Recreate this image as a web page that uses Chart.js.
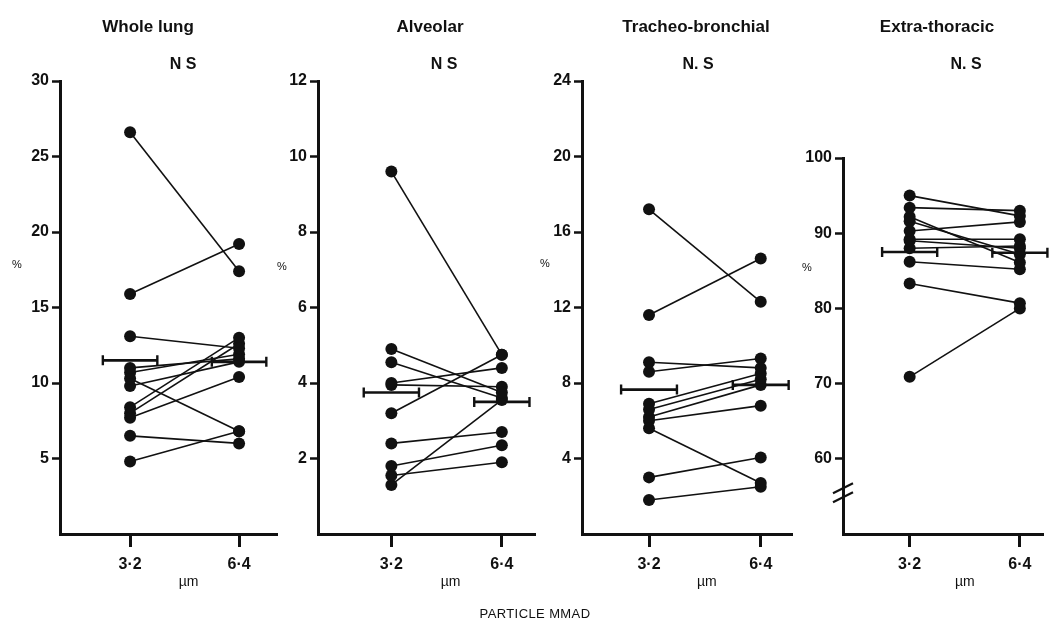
<!DOCTYPE html>
<html>
<head>
<meta charset="utf-8">
<script src="https://cdn.jsdelivr.net/npm/chart.js@4.4.1/dist/chart.umd.min.js"></script>
<style>
html,body{margin:0;padding:0;background:#fff;}
#wrap{position:relative;width:1049px;height:625px;overflow:hidden;background:#fff;}
#wrap canvas{position:absolute;top:0;}
#xlab{position:absolute;left:535px;top:606px;transform:translateX(-50%);font:13px "Liberation Sans",Arial,sans-serif;color:#111;letter-spacing:0.4px;white-space:nowrap;}
</style>
</head>
<body>
<div id="wrap">
<canvas id="c0"></canvas>
<canvas id="c1"></canvas>
<canvas id="c2"></canvas>
<canvas id="c3"></canvas>
<div id="xlab">PARTICLE MMAD</div>
</div>
<script>
// ---------------- DATA ----------------
const sizeLabels = ['3·2', '6·4'];
const unitLabel = 'µm';
const panelTitles = ['Whole lung', 'Alveolar', 'Tracheo-bronchial', 'Extra-thoracic'];
const sigLabels = ['N S', 'N S', 'N. S', 'N. S'];

// Whole lung (%), paired subjects at 3.2 and 6.4 µm
const wholeLung32 = [26.6, 15.9, 13.1, 11.0, 10.7, 10.3, 9.8, 8.4, 8.0, 7.7, 6.5, 4.8];
const wholeLung64 = [17.4, 19.2, 12.3, 11.6, 11.9, 6.8, 11.4, 13.0, 12.6, 10.4, 6.0, 6.8];
const wholeLungMean = [11.5, 11.4];
const wholeLungTicks = [5, 10, 15, 20, 25, 30];

// Alveolar (%)
const alveolar32 = [9.6, 4.9, 4.55, 4.0, 3.95, 3.2, 2.4, 1.8, 1.55, 1.3];
const alveolar64 = [4.75, 3.75, 3.6, 4.4, 3.9, 4.75, 2.7, 2.35, 1.9, 3.55];
const alveolarMean = [3.75, 3.5];
const alveolarTicks = [2, 4, 6, 8, 10, 12];

// Tracheo-bronchial (%)
const tracheo32 = [17.2, 11.6, 9.1, 8.6, 6.9, 6.6, 6.2, 6.0, 5.6, 3.0, 1.8];
const tracheo64 = [12.3, 14.6, 8.8, 9.3, 8.5, 8.2, 7.9, 6.8, 2.7, 4.05, 2.5];
const tracheoMean = [7.65, 7.9];
const tracheoTicks = [4, 8, 12, 16, 20, 24];

// Extra-thoracic (%)
const extra32 = [95.0, 93.4, 92.2, 91.6, 90.3, 89.2, 89.0, 88.0, 86.2, 83.3, 70.9];
const extra64 = [92.3, 93.0, 86.1, 87.2, 91.5, 89.2, 88.0, 88.3, 85.2, 80.7, 80.0];
const extraMean = [87.5, 87.4];
const extraTicks = [60, 70, 80, 90, 100];

const yRanges = [[0, 30], [0, 12], [0, 24], [50, 100]];

// ---------------- LAYOUT (positions / styles only) ----------------
const H = 625;
const AXIS_BOTTOM = 534;
const Y_AXIS_W = 50;
const layouts = [
  {left: 10,  width: 273, top: 81,  xmin: 0.357, xmax: 2.348, titleDx: 88,  sigDx: 123, pctDx: -43, pctY: 265, muDx: 4},
  {left: 268, width: 273, top: 81,  xmin: 0.336, xmax: 2.30,  titleDx: 112, sigDx: 126, pctDx: -36, pctY: 267, muDx: 4},
  {left: 532, width: 266, top: 81,  xmin: 0.40,  xmax: 2.28,  titleDx: 114, sigDx: 116, pctDx: -37, pctY: 264, muDx: 2},
  {left: 793, width: 256, top: 158, xmin: 0.395, xmax: 2.21,  titleDx: 94,  sigDx: 123, pctDx: -36, pctY: 268, muDx: 0, brk: 55.3}
];

const INK = '#111';
const FAM = '"Liberation Sans", Arial, sans-serif';

const panels = [
  {v32: wholeLung32, v64: wholeLung64, mean: wholeLungMean, ticks: wholeLungTicks},
  {v32: alveolar32,  v64: alveolar64,  mean: alveolarMean,  ticks: alveolarTicks},
  {v32: tracheo32,   v64: tracheo64,   mean: tracheoMean,   ticks: tracheoTicks},
  {v32: extra32,     v64: extra64,     mean: extraMean,     ticks: extraTicks}
];

function makePanel(i) {
  const P = panels[i], L = layouts[i];
  const canvas = document.getElementById('c' + i);
  canvas.width = L.width; canvas.height = H;
  canvas.style.left = L.left + 'px';
  canvas.style.width = L.width + 'px'; canvas.style.height = H + 'px';

  const datasets = P.v32.map((v, k) => ({
    data: [{x: 1, y: v}, {x: 2, y: P.v64[k]}],
    showLine: true,
    borderColor: INK,
    backgroundColor: INK,
    borderWidth: 1.6,
    pointRadius: 6,
    pointBackgroundColor: INK,
    pointBorderColor: INK,
    pointBorderWidth: 0,
    tension: 0,
    fill: false
  }));

  const annot = {
    id: 'annot' + i,
    afterDatasetsDraw(chart) {
      const ctx = chart.ctx, xs = chart.scales.x, ys = chart.scales.y, a = chart.chartArea;
      ctx.save();
      // mean bars
      ctx.strokeStyle = INK; ctx.lineCap = 'butt';
      P.mean.forEach((m, k) => {
        const y = ys.getPixelForValue(m);
        const x0 = xs.getPixelForValue(k + 1 - 0.25), x1 = xs.getPixelForValue(k + 1 + 0.25);
        ctx.lineWidth = 2.6;
        ctx.beginPath(); ctx.moveTo(x0, y); ctx.lineTo(x1, y); ctx.stroke();
        ctx.lineWidth = 2.4;
        ctx.beginPath();
        ctx.moveTo(x0, y - 5); ctx.lineTo(x0, y + 5);
        ctx.moveTo(x1, y - 5); ctx.lineTo(x1, y + 5);
        ctx.stroke();
      });
      // titles
      ctx.fillStyle = INK;
      ctx.textAlign = 'center'; ctx.textBaseline = 'middle';
      ctx.font = 'bold 17px ' + FAM;
      ctx.fillText(panelTitles[i], a.left + L.titleDx, 27);
      ctx.font = 'bold 16px ' + FAM;
      ctx.fillText(sigLabels[i], a.left + L.sigDx, 65);
      // % label
      ctx.font = '11px ' + FAM;
      ctx.fillText('%', a.left + L.pctDx, L.pctY);
      // µm label
      ctx.font = '14px ' + FAM;
      const mid = (xs.getPixelForValue(1) + xs.getPixelForValue(2)) / 2;
      ctx.fillText(unitLabel, mid + L.muDx, 582);
      // axis break
      if (L.brk !== undefined) {
        const yb = ys.getPixelForValue(L.brk);
        ctx.strokeStyle = INK; ctx.lineWidth = 2.2;
        ctx.beginPath();
        ctx.moveTo(a.left - 10, yb - 1); ctx.lineTo(a.left + 10, yb - 11);
        ctx.moveTo(a.left - 10, yb + 8); ctx.lineTo(a.left + 10, yb - 2);
        ctx.stroke();
      }
      ctx.restore();
    }
  };

  new Chart(canvas, {
    type: 'scatter',
    data: {datasets},
    options: {
      responsive: false,
      animation: false,
      devicePixelRatio: 1,
      layout: {padding: {top: L.top, right: 0, bottom: 0, left: 0}},
      plugins: {legend: {display: false}, tooltip: {enabled: false}, title: {display: false}},
      scales: {
        x: {
          type: 'linear', min: L.xmin, max: L.xmax,
          afterBuildTicks: s => { s.ticks = [{value: 1}, {value: 2}]; },
          afterFit: s => { s.height = H - AXIS_BOTTOM; },
          ticks: {
            callback: v => sizeLabels[Math.round(v) - 1],
            font: {family: FAM, size: 16, weight: 'bold'}, color: INK,
            padding: 8, maxRotation: 0, autoSkip: false
          },
          grid: {display: true, drawOnChartArea: false, drawTicks: true, tickLength: 13, tickWidth: 3, tickColor: INK, color: INK},
          border: {display: true, color: INK, width: 3}
        },
        y: {
          min: yRanges[i][0], max: yRanges[i][1],
          afterBuildTicks: s => { s.ticks = P.ticks.map(v => ({value: v})); },
          afterFit: s => { s.width = Y_AXIS_W; },
          ticks: {
            callback: v => String(v),
            font: {family: FAM, size: 16, weight: 'bold'}, color: INK,
            padding: 3, autoSkip: false
          },
          grid: {display: true, drawOnChartArea: false, drawTicks: true, tickLength: 8, tickWidth: 2.5, tickColor: INK, color: INK},
          border: {display: true, color: INK, width: 3}
        }
      }
    },
    plugins: [annot]
  });
}

for (let i = 0; i < 4; i++) makePanel(i);
</script>
</body>
</html>
